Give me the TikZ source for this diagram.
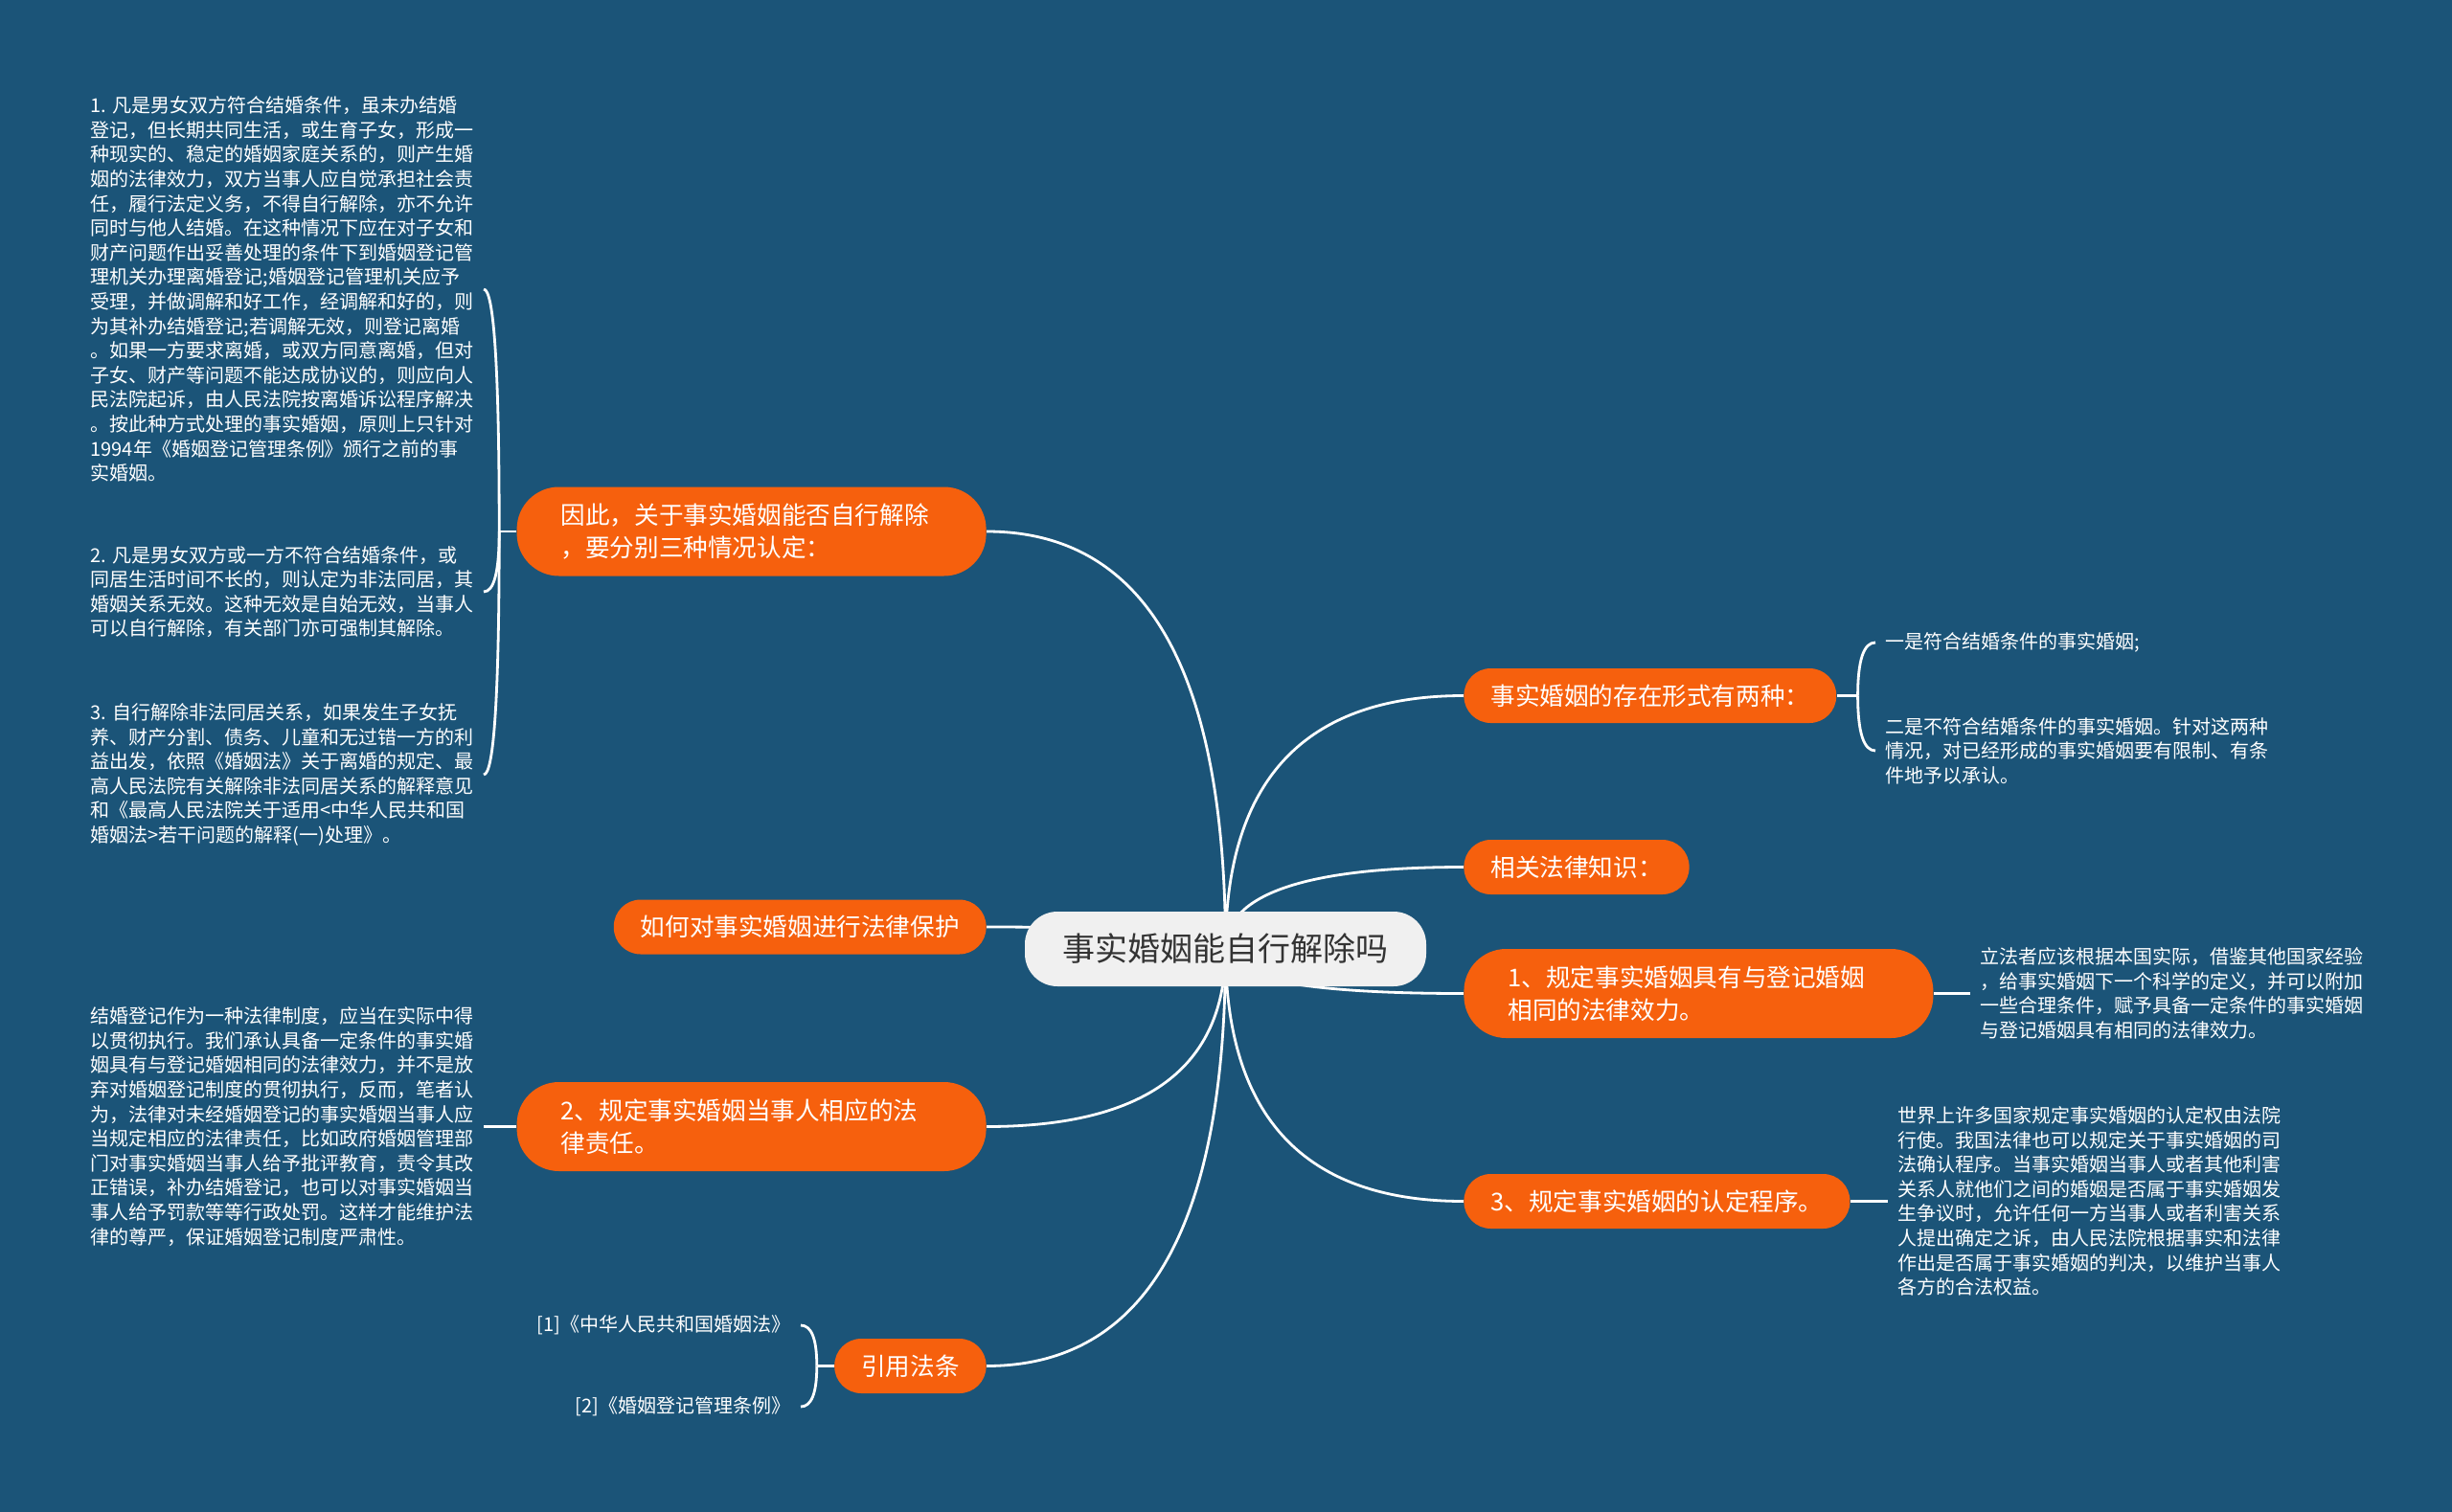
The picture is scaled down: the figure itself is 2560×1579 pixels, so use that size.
\documentclass[tikz,border=0pt]{standalone}
\usepackage{fontspec}
\setmainfont{Noto Sans CJK SC}
\usetikzlibrary{positioning, calc, backgrounds}
\definecolor{bgBlue}{HTML}{1B5478}
\definecolor{topicOrange}{HTML}{F6600D}
\definecolor{rootFill}{HTML}{F0F0F0}
\definecolor{rootText}{HTML}{333333}
\definecolor{lineWhite}{HTML}{FFFFFF}
\tikzset{
  rootbox/.style={fill=rootFill, text=rootText, rounded corners=17pt,
    minimum width=209.5pt, minimum height=39pt,
    font=\fontsize{17}{20}\selectfont},
  topicbox/.style={fill=topicOrange, text=white, rounded corners=14pt,
    minimum height=28.5pt, inner xsep=14pt, inner ysep=4pt,
    font=\fontsize{12.8}{17}\selectfont},
  topictwo/.style={topicbox, rounded corners=22pt, minimum height=46.5pt,
    text width=199pt, inner xsep=23pt, align=left},
  notetext/.style={text=white, font=\fontsize{10}{12.8}\selectfont,
    align=left, inner xsep=5pt, inner ysep=2pt},
  branchline/.style={draw=lineWhite, line width=1.4pt},
  branchcurve/.style={to path={.. controls ($(\tikztostart)!0.667!(\tikztostart |- \tikztotarget)$)
    and ($(\tikztotarget)!0.667!(\tikztostart |- \tikztotarget)$) .. (\tikztotarget)}},
}

\begin{document}
\begin{tikzpicture}[x=0.5pt, y=-0.5pt]
  \useasboundingbox (0,0) rectangle (2560,1579);

  % === Centre ===
  \node[rootbox] (root) at (1279.5,991) {事实婚姻能自行解除吗};

  % === Left topics ===
  \node[topictwo, anchor=east] (yinci) at (1030,555) {因此，关于事实婚姻能否自行解除\\，要分别三种情况认定：};
  \node[topicbox, anchor=east] (ruhe) at (1030,968) {如何对事实婚姻进行法律保护};
  \node[topictwo, anchor=east] (zeren) at (1030,1176.5) {2、规定事实婚姻当事人相应的法\\律责任。};
  \node[topicbox, anchor=east] (yinyong) at (1030,1426.5) {引用法条};

  % === Right topics ===
  \node[topicbox, anchor=west] (xingshi) at (1528,726.5) {事实婚姻的存在形式有两种：};
  \node[topicbox, anchor=west] (zhishi) at (1528,905.5) {相关法律知识：};
  \node[topictwo, anchor=west] (xiaoli) at (1528,1037.5) {1、规定事实婚姻具有与登记婚姻\\相同的法律效力。};
  \node[topicbox, anchor=west] (chengxu) at (1528,1254.5) {3、规定事实婚姻的认定程序。};

  % === Left notes ===
  \node[notetext, anchor=east] (qingkuang1) at (505,302) {1. 凡是男女双方符合结婚条件，虽未办结婚\\
    登记，但长期共同生活，或生育子女，形成一\\
    种现实的、稳定的婚姻家庭关系的，则产生婚\\
    姻的法律效力，双方当事人应自觉承担社会责\\
    任，履行法定义务，不得自行解除，亦不允许\\
    同时与他人结婚。在这种情况下应在对子女和\\
    财产问题作出妥善处理的条件下到婚姻登记管\\
    理机关办理离婚登记;婚姻登记管理机关应予\\
    受理，并做调解和好工作，经调解和好的，则\\
    为其补办结婚登记;若调解无效，则登记离婚\\
    。如果一方要求离婚，或双方同意离婚，但对\\
    子女、财产等问题不能达成协议的，则应向人\\
    民法院起诉，由人民法院按离婚诉讼程序解决\\
    。按此种方式处理的事实婚姻，原则上只针对\\
    1994年《婚姻登记管理条例》颁行之前的事\\
    实婚姻。};
  \node[notetext, anchor=east] (qingkuang2) at (505,618) {2. 凡是男女双方或一方不符合结婚条件，或\\
    同居生活时间不长的，则认定为非法同居，其\\
    婚姻关系无效。这种无效是自始无效，当事人\\
    可以自行解除，有关部门亦可强制其解除。};
  \node[notetext, anchor=east] (qingkuang3) at (505,809) {3. 自行解除非法同居关系，如果发生子女抚\\
    养、财产分割、债务、儿童和无过错一方的利\\
    益出发，依照《婚姻法》关于离婚的规定、最\\
    高人民法院有关解除非法同居关系的解释意见\\
    和《最高人民法院关于适用<中华人民共和国\\
    婚姻法>若干问题的解释(一)处理》。};
  \node[notetext, left=17pt of zeren] (zerenshuoming) {结婚登记作为一种法律制度，应当在实际中得\\
    以贯彻执行。我们承认具备一定条件的事实婚\\
    姻具有与登记婚姻相同的法律效力，并不是放\\
    弃对婚姻登记制度的贯彻执行，反而，笔者认\\
    为，法律对未经婚姻登记的事实婚姻当事人应\\
    当规定相应的法律责任，比如政府婚姻管理部\\
    门对事实婚姻当事人给予批评教育，责令其改\\
    正错误，补办结婚登记，也可以对事实婚姻当\\
    事人给予罚款等等行政处罚。这样才能维护法\\
    律的尊严，保证婚姻登记制度严肃性。};
  \node[notetext, anchor=east] (fa1) at (836,1384) {[1]《中华人民共和国婚姻法》};
  \node[notetext, anchor=east] (fa2) at (836,1469) {[2]《婚姻登记管理条例》};

  % === Right notes ===
  \node[notetext, anchor=west] (xingshi1) at (1958,671) {一是符合结婚条件的事实婚姻;};
  \node[notetext, anchor=west] (xingshi2) at (1958,784) {二是不符合结婚条件的事实婚姻。针对这两种\\
    情况，对已经形成的事实婚姻要有限制、有条\\
    件地予以承认。};
  \node[notetext, right=19pt of xiaoli] (xiaolishuoming) {立法者应该根据本国实际，借鉴其他国家经验\\
    ，给事实婚姻下一个科学的定义，并可以附加\\
    一些合理条件，赋予具备一定条件的事实婚姻\\
    与登记婚姻具有相同的法律效力。};
  \node[notetext, right=19.5pt of chengxu] (chengxushuoming) {世界上许多国家规定事实婚姻的认定权由法院\\
    行使。我国法律也可以规定关于事实婚姻的司\\
    法确认程序。当事实婚姻当事人或者其他利害\\
    关系人就他们之间的婚姻是否属于事实婚姻发\\
    生争议时，允许任何一方当事人或者利害关系\\
    人提出确定之诉，由人民法院根据事实和法律\\
    作出是否属于事实婚姻的判决，以维护当事人\\
    各方的合法权益。};

  \begin{scope}[on background layer]
    \fill[bgBlue] (0,0) rectangle (2560,1579);

    % Connectors: root -> topics
    \draw[branchline] (root.center) to[branchcurve] (yinci.east);
    \draw[branchline] (root.center) to[branchcurve] (ruhe.east);
    \draw[branchline] (root.center) to[branchcurve] (zeren.east);
    \draw[branchline] (root.center) to[branchcurve] (yinyong.east);
    \draw[branchline] (root.center) to[branchcurve] (xingshi.west);
    \draw[branchline] (root.center) to[branchcurve] (zhishi.west);
    \draw[branchline] (root.center) to[branchcurve] (xiaoli.west);
    \draw[branchline] (root.center) to[branchcurve] (chengxu.west);

    % Brackets: topics -> notes
    \draw[branchline] (yinci.west) -- ++(-18,0) coordinate (yinciJ);
    \draw[branchline] (yinciJ) to[branchcurve] (qingkuang1.east);
    \draw[branchline] (yinciJ) to[branchcurve] (qingkuang2.east);
    \draw[branchline] (yinciJ) to[branchcurve] (qingkuang3.east);

    \draw[branchline] (yinyong.west) -- ++(-18,0) coordinate (yinyongJ);
    \draw[branchline] (yinyongJ) to[branchcurve] (fa1.east);
    \draw[branchline] (yinyongJ) to[branchcurve] (fa2.east);

    \draw[branchline] (xingshi.east) -- ++(22,0) coordinate (xingshiJ);
    \draw[branchline] (xingshiJ) to[branchcurve] (xingshi1.west);
    \draw[branchline] (xingshiJ) to[branchcurve] (xingshi2.west);

    \draw[branchline] (zeren.west) -- (zerenshuoming.east);
    \draw[branchline] (xiaoli.east) -- (xiaolishuoming.west);
    \draw[branchline] (chengxu.east) -- (chengxushuoming.west);
  \end{scope}

\end{tikzpicture}
\end{document}
